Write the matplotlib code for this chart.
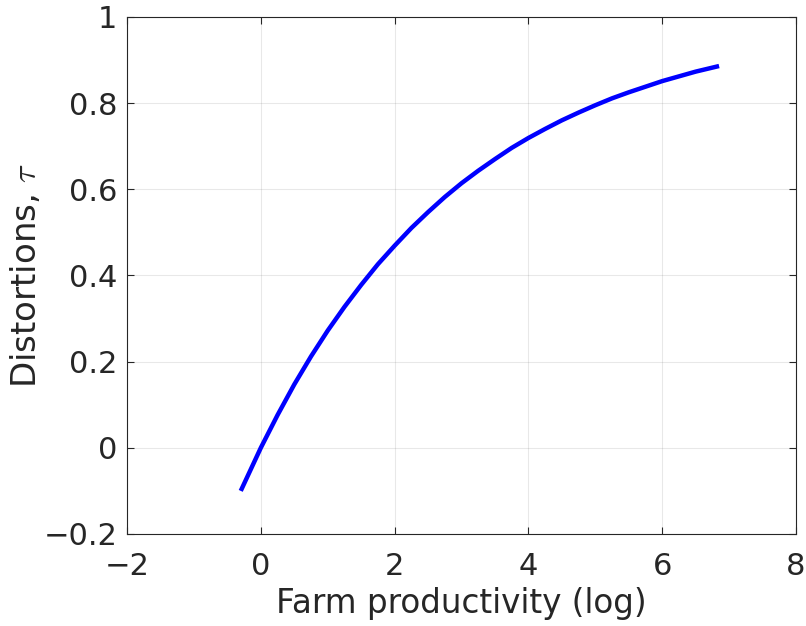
import matplotlib
matplotlib.use('Agg')
import matplotlib.pyplot as plt

# productivity (log) vs distortion tau
productivity = [-0.3, 0.0, 0.25, 0.5, 0.75, 1.0, 1.25, 1.5, 1.75, 2.0, 2.25, 2.5,
                2.75, 3.0, 3.25, 3.5, 3.75, 4.0, 4.25, 4.5, 4.75, 5.0, 5.25, 5.5,
                5.75, 6.0, 6.25, 6.5, 6.85]
tau = [-0.100, 0.000, 0.076, 0.147, 0.212, 0.272, 0.327, 0.378, 0.426, 0.469,
       0.510, 0.547, 0.582, 0.614, 0.643, 0.670, 0.696, 0.719, 0.740, 0.760,
       0.778, 0.795, 0.811, 0.825, 0.838, 0.851, 0.862, 0.873, 0.886]

xticks = [-2, 0, 2, 4, 6, 8]
yticks = [-0.2, 0, 0.2, 0.4, 0.6, 0.8, 1]
ytick_labels = ['\u22120.2', '0', '0.2', '0.4', '0.6', '0.8', '1']
xtick_labels = ['\u22122', '0', '2', '4', '6', '8']

plt.rcParams['font.family'] = ['DejaVu Sans']
plt.rcParams['mathtext.fontset'] = 'cm'

dark = '#262626'
fig = plt.figure(figsize=(8.06, 6.26), dpi=100)
ax = fig.add_axes([0.1576, 0.147, 0.830, 0.826])

ax.plot(productivity, tau, color='#0000ff', lw=3.2, solid_capstyle='butt')

ax.set_xlim(-2, 8)
ax.set_ylim(-0.2, 1)
ax.set_xticks(xticks)
ax.set_xticklabels(xtick_labels)
ax.set_yticks(yticks)
ax.set_yticklabels(ytick_labels)

ax.grid(True, color=dark, alpha=0.1, lw=0.8)
ax.set_axisbelow(True)
ax.tick_params(direction='in', length=5, width=0.8, colors=dark,
               labelsize=22, top=True, right=True)
ax.tick_params(axis='x', pad=13)
ax.tick_params(axis='y', pad=7)
for sp in ax.spines.values():
    sp.set_color(dark)
    sp.set_linewidth(0.8)

ax.set_xlabel('Farm productivity (log)', fontsize=23.5, color=dark, labelpad=4)
ax.set_ylabel(r'Distortions, $\tau$', fontsize=24.5, color=dark, labelpad=0)

fig.savefig('out.png', dpi=100)
